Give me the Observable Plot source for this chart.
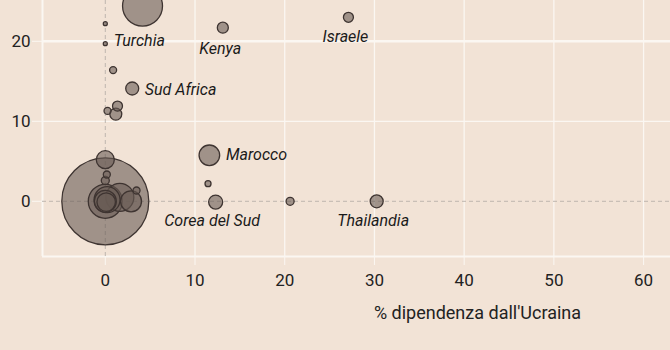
<!DOCTYPE html>
<html>
<head>
<meta charset="utf-8">
<script src="https://cdn.jsdelivr.net/npm/d3@7"></script>
<script src="https://cdn.jsdelivr.net/npm/@observablehq/plot@0.6"></script>
<style>
  html, body { margin: 0; padding: 0; background: #f2e3d6; overflow: hidden; }
  #chart svg { display: block; }
</style>
</head>
<body>
<div id="chart"></div>
<script>
// Data
const countries = ["", "", "Turchia", "Kenya", "Israele", "", "Sud Africa", "", "", "",
  "Marocco", "", "Corea del Sud", "", "Thailandia", "", "", "", "", "", "", "", "", "", "", ""];
const dependence = [4.15, 0, 0, 13.1, 27.1, 0.87, 3.0, 0.25, 1.36, 1.17,
  11.6, 11.45, 12.3, 20.6, 30.25, 0, 0, 0.17, 0, 1.62, 2.87, 3.48, 0, 0.2, 0, 0.1];
const yValues = [24.4, 22.2, 19.7, 21.7, 23.0, 16.4, 14.1, 11.3, 11.9, 10.9,
  5.75, 2.2, -0.1, 0, 0, 0, 5.2, 3.35, 2.6, 0.5, 0, 1.35, 0, 0.2, 0, -0.1];
const sizes = [21.1, 0.21, 0.21, 1.6, 1.32, 0.65, 2.23, 0.65, 1.32, 1.9,
  5.6, 0.48, 2.6, 0.85, 2.23, 100, 4.28, 0.65, 0.85, 10.36, 5.83, 0.65, 15.3, 8.9, 6.4, 4.5];
const xTicks = [0, 10, 20, 30, 40, 50, 60];
const yTicks = [0, 10, 20];
const xTitle = "% dipendenza dall'Ucraina";

const data = countries.map((c, i) => ({country: c, x: dependence[i], y: yValues[i], size: sizes[i]}));

const xDomain = [-7, 63];
const yDomain = [-6.9, 25.1];
const grid = "#fbf7f2";
const refLine = "#bfb6ae";

function label(name, opts) {
  return Plot.text(data.filter(d => d.country === name), {
    x: "x", y: "y", text: "country", fontStyle: "italic", fontSize: 16,
    fill: "#1a1a1a", ...opts
  });
}

const chart = Plot.plot({
  width: 670,
  height: 350,
  marginLeft: 42,
  marginRight: 0,
  marginTop: 0,
  marginBottom: 94,
  style: {background: "#f2e3d6", fontFamily: "Roboto", fontSize: "17px", color: "#222"},
  x: {domain: xDomain},
  y: {domain: yDomain},
  r: {domain: [0, 100], range: [0, 43.5]},
  marks: [
    Plot.ruleX(xTicks.filter(t => t !== 0), {stroke: grid, strokeWidth: 1.3}),
    Plot.ruleY(yTicks.filter(t => t === 10), {stroke: grid, strokeWidth: 1.3}),
    Plot.ruleY(yTicks.filter(t => t === 20), {stroke: grid, strokeWidth: 2.6}),
    Plot.ruleX([xDomain[0]], {stroke: grid, strokeWidth: 2}),
    Plot.ruleY([yDomain[0]], {stroke: grid, strokeWidth: 2}),
    Plot.ruleX([0], {stroke: refLine, strokeDasharray: "4,3", strokeWidth: 1}),
    Plot.ruleY([0], {stroke: refLine, strokeDasharray: "4,3", strokeWidth: 1}),
    Plot.axisX({ticks: xTicks, tickSize: 9, tickPadding: 8, stroke: grid, fill: "#222", label: null, fontSize: 17}),
    Plot.axisY({ticks: yTicks, tickSize: 10, tickPadding: 2, stroke: grid, fill: "#222", label: null, fontSize: 17}),
    Plot.dot(data, {x: "x", y: "y", r: "size", fill: "#695c55", fillOpacity: 0.6,
      stroke: "#3e3431", strokeWidth: 1.3, clip: true}),
    label("Turchia", {textAnchor: "start", dx: 8.5, dy: -2.5}),
    label("Kenya", {textAnchor: "middle", dx: -2.6, dy: 21}),
    label("Israele", {textAnchor: "middle", dx: -3, dy: 20}),
    label("Sud Africa", {textAnchor: "start", dx: 12.6, dy: 1.3}),
    label("Marocco", {textAnchor: "start", dx: 16.6, dy: 0}),
    label("Corea del Sud", {textAnchor: "middle", dx: -3.5, dy: 19}),
    label("Thailandia", {textAnchor: "middle", dx: -3.5, dy: 20}),
    Plot.text([xTitle], {frameAnchor: "bottom", text: d => d, dx: 121, dy: 57,
      fontSize: 18, fill: "#222", textAnchor: "middle", lineAnchor: "middle"})
  ]
});
document.getElementById("chart").appendChild(chart);
</script>
</body>
</html>
